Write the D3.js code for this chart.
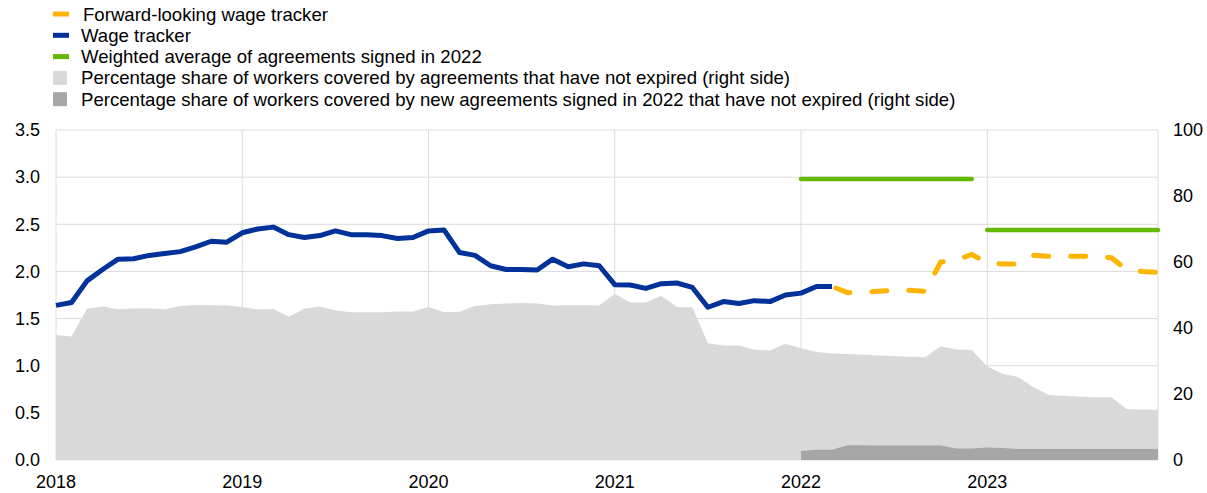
<!DOCTYPE html>
<html>
<head>
<meta charset="utf-8">
<script src="https://d3js.org/d3.v7.min.js"></script>
<style>
    body { margin: 0; background: white; }
    text { font-family: Arial, "Liberation Sans", sans-serif; fill: #000; }
</style>
</head>
<body>
<script>
    // monthly data, Jan 2018 .. Dec 2023 (index 0..71)
    let yearLabels = ["2018", "2019", "2020", "2021", "2022", "2023"];
    let leftTicks = [0, 0.5, 1.0, 1.5, 2.0, 2.5, 3.0, 3.5];
    let rightTicks = [0, 20, 40, 60, 80, 100];

    // wage tracker, Jan 2018 .. Mar 2022
    let wageTracker = [1.64, 1.67, 1.90, 2.02, 2.13, 2.135, 2.17, 2.19, 2.21, 2.26, 2.32, 2.31,
        2.41, 2.45, 2.47, 2.39, 2.36, 2.38, 2.43, 2.39, 2.39, 2.38, 2.35, 2.36,
        2.43, 2.44, 2.20, 2.17, 2.06, 2.02, 2.02, 2.015, 2.13, 2.05, 2.08, 2.06,
        1.86, 1.856, 1.82, 1.87, 1.877, 1.83, 1.62, 1.68, 1.66, 1.69, 1.68, 1.75,
        1.77, 1.84, 1.84];
    // forward-looking wage tracker, Mar 2022 .. Dec 2023
    let forwardTracker = [1.84, 1.775, 1.78, 1.79, 1.80, 1.80, 1.79, 2.10, 2.12, 2.18, 2.09,
        2.08, 2.08, 2.17, 2.16, 2.16, 2.16, 2.16, 2.145, 2.015, 2.00, 1.99];
    let forwardStart = 50;

    // weighted average of agreements signed in 2022
    let avgStart = [48, 60];
    let avgEnd = [59, 71];
    let avgValue = [2.98, 2.44];

    // share of workers covered by agreements not expired (right axis, %)
    let shareAll = [37.9, 37.4, 45.8, 46.5, 45.7, 45.9, 45.9, 45.7, 46.7, 47.0, 46.9, 46.8,
        46.4, 45.6, 45.8, 43.4, 45.8, 46.5, 45.3, 44.8, 44.8, 44.8, 45.0, 45.0,
        46.4, 44.8, 44.9, 46.7, 47.2, 47.4, 47.6, 47.4, 46.8, 46.9, 46.9, 46.8,
        50.4, 47.7, 47.7, 49.8, 46.4, 46.3, 35.4, 34.7, 34.7, 33.4, 33.2, 35.2,
        33.9, 32.7, 32.3, 32.1, 31.9, 31.7, 31.5, 31.3, 31.1, 34.5, 33.5, 33.3,
        28.3, 26.1, 25.1, 22.0, 19.6, 19.5, 19.2, 19.0, 19.0, 15.4, 15.3, 15.2];
    // share covered by new agreements signed in 2022, Jan 2022 .. Dec 2023
    let shareNew = [2.7, 3.1, 3.1, 4.5, 4.5, 4.4, 4.4, 4.4, 4.4, 4.4, 3.5, 3.5,
        3.8, 3.6, 3.3, 3.3, 3.3, 3.3, 3.3, 3.3, 3.3, 3.3, 3.3, 3.3];
    let shareNewStart = 48;

    let legendLabels = [
        "Forward-looking wage tracker",
        "Wage tracker",
        "Weighted average of agreements signed in 2022",
        "Percentage share of workers covered by agreements that have not expired (right side)",
        "Percentage share of workers covered by new agreements signed in 2022 that have not expired (right side)"
    ];

    let colors = {
        yellow: "#FFB400", blue: "#003299", green: "#65B800",
        light: "#D9D9D9", dark: "#A6A6A6", grid: "#DCDCDC"
    };

    let W = 1207, H = 493;
    let svg = d3.select("body").append("svg")
        .attr("width", W)
        .attr("height", H);

    let x = d3.scaleLinear().domain([0, 71]).range([56, 1158]);
    let y = d3.scaleLinear().domain([0, 3.5]).range([460, 130]);
    let y2 = d3.scaleLinear().domain([0, 100]).range([460, 130]);

    // grid
    let grid = svg.append("g");
    leftTicks.forEach(t =>
        grid.append("line")
            .attr("x1", x(0)).attr("x2", x(71))
            .attr("y1", y(t)).attr("y2", y(t))
            .attr("stroke", colors.grid).attr("stroke-width", 1)
    );
    yearLabels.forEach((l, i) =>
        grid.append("line")
            .attr("x1", x(i * 12)).attr("x2", x(i * 12))
            .attr("y1", y(0)).attr("y2", y(3.5))
            .attr("stroke", colors.grid).attr("stroke-width", 1)
    );
    grid.append("line")
        .attr("x1", x(71)).attr("x2", x(71))
        .attr("y1", y(0)).attr("y2", y(3.5))
        .attr("stroke", colors.grid).attr("stroke-width", 1);

    // areas (right axis)
    let area = d3.area()
        .x(d => x(d.i))
        .y0(y2(0))
        .y1(d => y2(d.v));

    svg.append("path")
        .datum(shareAll.map((v, i) => ({i: i, v: v})))
        .attr("d", area)
        .attr("fill", colors.light);

    svg.append("path")
        .datum(shareNew.map((v, i) => ({i: i + shareNewStart, v: v})))
        .attr("d", area)
        .attr("fill", colors.dark);

    let line = d3.line()
        .x(d => x(d.i))
        .y(d => y(d.v));

    // wage tracker
    svg.append("path")
        .datum(wageTracker.map((v, i) => ({i: i, v: v})))
        .attr("d", line)
        .attr("fill", "none")
        .attr("stroke", colors.blue)
        .attr("stroke-width", 5)
        .attr("stroke-linejoin", "round");

    // forward-looking tracker
    svg.append("path")
        .datum(forwardTracker.map((v, i) => ({i: i + forwardStart, v: v})))
        .attr("d", line)
        .attr("fill", "none")
        .attr("stroke", colors.yellow)
        .attr("stroke-width", 5)
        .attr("stroke-dasharray", "15 22")
        .attr("stroke-dashoffset", -4)
        .attr("stroke-linecap", "round");

    // weighted averages
    avgValue.forEach((v, k) =>
        svg.append("line")
            .attr("x1", x(avgStart[k])).attr("x2", x(avgEnd[k]))
            .attr("y1", y(v)).attr("y2", y(v))
            .attr("stroke", colors.green)
            .attr("stroke-width", 4.5)
            .attr("stroke-linecap", "round")
    );

    // axis labels
    leftTicks.forEach(t =>
        svg.append("text")
            .attr("x", 40)
            .attr("y", y(t))
            .attr("dy", "0.35em")
            .attr("text-anchor", "end")
            .style("font-size", "18px")
            .text(d3.format(".1f")(t))
    );
    rightTicks.forEach(t =>
        svg.append("text")
            .attr("x", 1173)
            .attr("y", y2(t))
            .attr("dy", "0.35em")
            .style("font-size", "18px")
            .text(t)
    );
    yearLabels.forEach((l, i) =>
        svg.append("text")
            .attr("x", x(i * 12))
            .attr("y", 488)
            .attr("text-anchor", "middle")
            .style("font-size", "18px")
            .text(l)
    );

    // legend
    let legend = svg.append("g");
    let legendColors = [colors.yellow, colors.blue, colors.green, colors.light, colors.dark];
    legendLabels.forEach((l, i) => {
        let cy = 14 + i * 21.3;
        if (i < 3) {
            legend.append("rect")
                .attr("x", 53).attr("y", cy - 2.5)
                .attr("width", 16).attr("height", 5)
                .attr("fill", legendColors[i]);
        } else {
            legend.append("rect")
                .attr("x", 53).attr("y", cy - 7)
                .attr("width", 14).attr("height", 14)
                .attr("fill", legendColors[i]);
        }
        legend.append("text")
            .attr("x", i == 0 ? 83 : 81)
            .attr("y", cy)
            .attr("dy", "0.35em")
            .style("font-size", "18.6px")
            .text(l);
    });
</script>
</body>
</html>
